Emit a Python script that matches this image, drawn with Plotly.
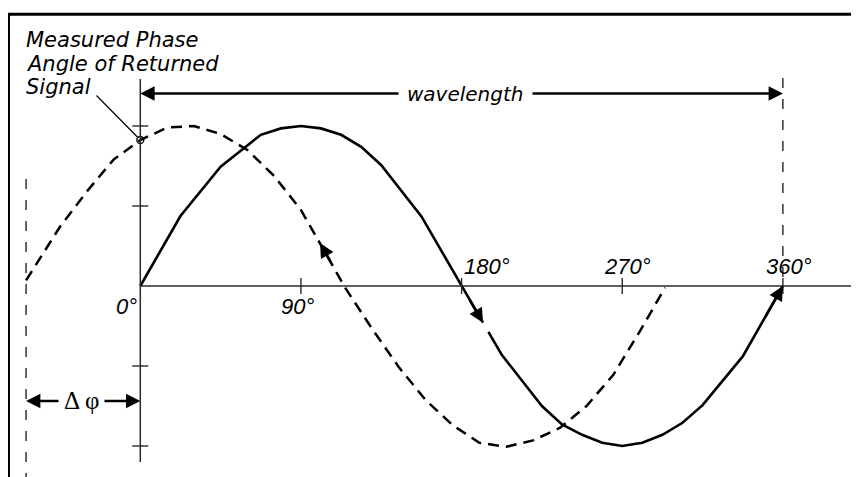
import numpy as np
import plotly.graph_objects as go

# ---------------- data ----------------
# transmitted signal (solid), phase in degrees vs amplitude in tick units
solid_deg = [0, 22.5, 45, 67.5, 78.75, 90, 101.25, 112.5, 123.75, 135, 157.5, 180,
             202.5, 225, 236.25, 247.5, 258.75, 270, 281.25, 292.5, 303.75, 315, 337.5, 360]
solid_val = [0, 0.875, 1.49, 1.89, 1.97, 2.0, 1.97, 1.89, 1.74, 1.51, 0.87, 0,
             -0.86, -1.5, -1.73, -1.86, -1.96, -2.0, -1.96, -1.86, -1.71, -1.49, -0.88, 0]

# returned signal (dashed)
dashed_deg = [-64, -45, -30, -15, 0, 15, 30, 45, 60, 75, 90, 105, 115, 130, 145,
              160, 175, 190, 205, 220, 235, 250, 265, 280, 294]
dashed_val = [0.07, 0.74, 1.18, 1.58, 1.825, 1.98, 2.0, 1.9, 1.7, 1.375, 0.95, 0.37,
              -0.03, -0.54, -1.02, -1.43, -1.74, -1.96, -2.01, -1.93, -1.775, -1.5,
              -1.11, -0.56, -0.02]

x_tick_deg = [90, 180, 270, 360]
deg_labels = ["0°", "90°", "180°", "270°", "360°"]
amp_ticks = [2, 1, -1, -2]
phase_shift_deg = 64          # Δφ
wavelength_deg = 360

# ---------------- layout helpers ----------------
W, H = 859, 477
OFF = 8.0                      # page body margin in the browser
X0_PX, PX_PER_DEG = 140.3, 1.785
Y0_PX, PX_PER_UNIT = 286.0, 80.0


def dx(px):
    return (px - X0_PX) / PX_PER_DEG


def dy(py):
    return (Y0_PX - py) / PX_PER_UNIT


# figure pixel 0 is screen pixel OFF
xr = [dx(OFF), dx(OFF + W)]
yr = [dy(OFF + H), dy(OFF)]


def px_paper_x(px):
    return (px - OFF) / W


def px_paper_y(py):
    return 1 - (py - OFF) / H


BLACK = "#000000"
AXIS = "#2a2a2a"
TXT_FONT = dict(family="DejaVu Sans", size=21, color=BLACK, style="italic")
WL_FONT = dict(family="DejaVu Sans", size=20, color=BLACK, style="italic")
DEG_FONT = dict(family="Liberation Sans", size=22, color=BLACK, style="italic")


def s_at(d):
    return float(np.interp(d, solid_deg, solid_val))


def d_at(d):
    return float(np.interp(d, dashed_deg, dashed_val))


fig = go.Figure()

# solid curve with a small gap after the mid-curve arrow
ARROW1_TIP, ARROW1_RESUME = 192, 195
seg_x, seg_y = [], []
for d, v in zip(solid_deg, solid_val):
    if d < ARROW1_TIP:
        seg_x.append(d); seg_y.append(v)
seg_x += [ARROW1_TIP, None, ARROW1_RESUME]
seg_y += [s_at(ARROW1_TIP), None, s_at(ARROW1_RESUME)]
for d, v in zip(solid_deg, solid_val):
    if d > ARROW1_RESUME:
        seg_x.append(d); seg_y.append(v)

fig.add_trace(go.Scatter(x=dashed_deg, y=dashed_val, mode="lines",
                         line=dict(color=BLACK, width=2.5, dash="11px,7px"),
                         hoverinfo="skip"))
fig.add_trace(go.Scatter(x=seg_x, y=seg_y, mode="lines", connectgaps=False,
                         line=dict(color=BLACK, width=2.6), hoverinfo="skip"))

# axis ticks crossing the axes
fig.add_trace(go.Scatter(x=[0] * len(amp_ticks), y=amp_ticks, mode="markers",
                         marker=dict(symbol="line-ew", size=11.5, color=AXIS,
                                     line=dict(color=AXIS, width=1.4)),
                         hoverinfo="skip"))
fig.add_trace(go.Scatter(x=x_tick_deg, y=[0] * len(x_tick_deg), mode="markers",
                         marker=dict(symbol="line-ns", size=11.5, color=AXIS,
                                     line=dict(color=AXIS, width=1.4)),
                         hoverinfo="skip"))

# measured phase point
fig.add_trace(go.Scatter(x=[0], y=[d_at(0)], mode="markers",
                         marker=dict(symbol="circle-open", size=7, color=BLACK,
                                     line=dict(color=BLACK, width=1.3)),
                         hoverinfo="skip"))

shapes = [
    # outer frame (cropped on the right and bottom)
    dict(type="rect", xref="paper", yref="paper", x0=px_paper_x(8.5), y0=px_paper_y(14.3),
         x1=1.1, y1=-0.1, line=dict(color=BLACK, width=3)),
    # axes
    dict(type="line", xref="x", yref="y", x0=0, x1=0, y0=dy(79), y1=dy(462),
         line=dict(color=AXIS, width=1.5)),
    dict(type="line", xref="x", yref="y", x0=0, x1=xr[1] + 10, y0=0, y1=0,
         line=dict(color=AXIS, width=1.5)),
    # dashed guides
    dict(type="line", xref="x", yref="y", x0=-phase_shift_deg, x1=-phase_shift_deg,
         y0=dy(179), y1=yr[0] - 0.2, line=dict(color=BLACK, width=1.2, dash="10px,11px")),
    dict(type="line", xref="x", yref="y", x0=wavelength_deg, x1=wavelength_deg,
         y0=dy(78), y1=dy(283), line=dict(color=BLACK, width=1.2, dash="10px,11px")),
]

ARW = dict(showarrow=True, arrowhead=2, arrowsize=1.1, arrowwidth=2.6,
           arrowcolor=BLACK, axref="x", ayref="y", xref="x", yref="y",
           text="", standoff=0)

ann = []
# arrows on curves
ann.append(dict(ARW, x=ARROW1_TIP, y=s_at(ARROW1_TIP), ax=184, ay=s_at(184)))
ann.append(dict(ARW, x=360, y=s_at(360), ax=350, ay=s_at(350)))
ann.append(dict(ARW, x=100.7, y=d_at(100.7), ax=107, ay=d_at(107)))

# wavelength arrow
WL_Y = dy(93.5)
ann.append(dict(ARW, x=0, y=WL_Y, ax=wavelength_deg / 2, ay=WL_Y))
ann.append(dict(ARW, x=wavelength_deg, y=WL_Y, ax=wavelength_deg / 2, ay=WL_Y))
ann.append(dict(xref="x", yref="y", x=dx(465), y=WL_Y, text="wavelength",
                showarrow=False, font=WL_FONT, bgcolor="white", borderpad=8))

# Δφ arrow
DP_Y = dy(401)
ann.append(dict(ARW, x=-phase_shift_deg, y=DP_Y, ax=-phase_shift_deg / 2, ay=DP_Y))
ann.append(dict(ARW, x=0, y=DP_Y, ax=-phase_shift_deg / 2, ay=DP_Y))
ann.append(dict(xref="x", yref="y", x=dx(81), y=dy(400), text="Δ φ",
                showarrow=False, bgcolor="white", borderpad=5,
                font=dict(family="Liberation Serif", size=25, color=BLACK)))

# leader line to measured phase
ann.append(dict(showarrow=True, arrowhead=0, arrowwidth=1.2, arrowcolor=BLACK,
                xref="x", yref="y", axref="x", ayref="y", text="",
                x=0, y=d_at(0), ax=dx(95), ay=dy(94), standoff=3.5))

# callout text
for line, cy in zip(["Measured Phase", "Angle of Returned", "Signal"], [40.3, 63.6, 87.0]):
    ann.append(dict(xref="paper", yref="paper", x=px_paper_x(23.5), y=px_paper_y(cy),
                    text=line, showarrow=False, xanchor="left", yanchor="middle",
                    font=TXT_FONT))

# degree labels
label_x_px = [139, 297.5, 486.5, 627.5, 788.5]
label_y_px = [306.2, 306.2, 266.2, 266.2, 266.2]
for i, (lab, lx, ly) in enumerate(zip(deg_labels, label_x_px, label_y_px)):
    ann.append(dict(xref="x", yref="y", x=dx(lx), y=dy(ly), text=lab, showarrow=False,
                    xanchor="right" if i == 0 else "center", yanchor="middle",
                    font=DEG_FONT))

fig.update_layout(
    width=W, height=H, margin=dict(l=0, r=0, t=0, b=0),
    paper_bgcolor="white", plot_bgcolor="white", showlegend=False,
    xaxis=dict(range=xr, visible=False, fixedrange=True),
    yaxis=dict(range=yr, visible=False, fixedrange=True),
    shapes=shapes, annotations=ann,
)

fig.write_html("out.html")
